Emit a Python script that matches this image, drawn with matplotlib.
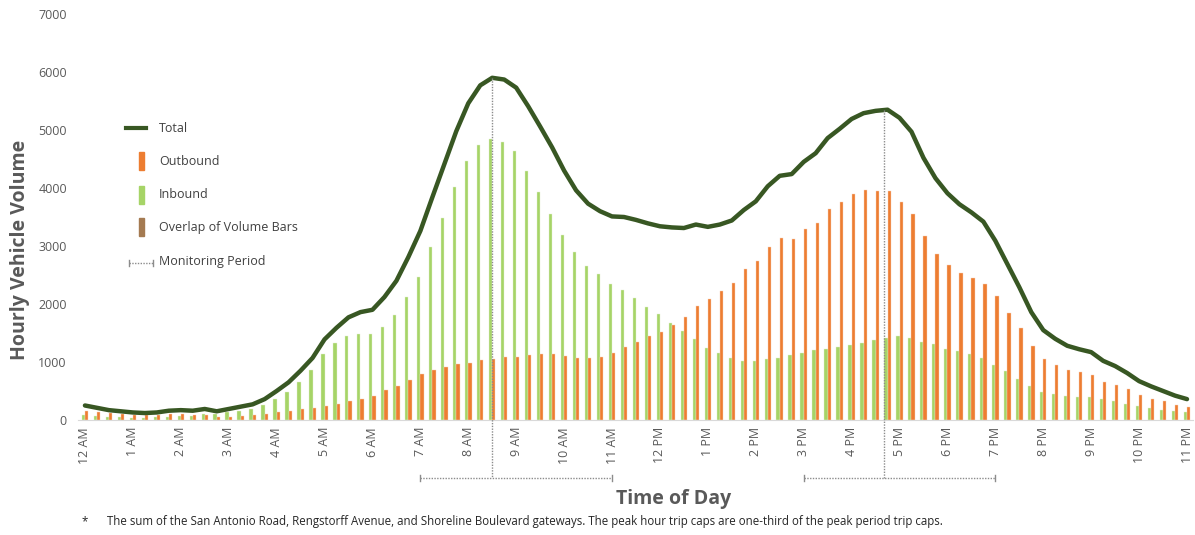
import matplotlib
matplotlib.use("Agg")
import matplotlib.pyplot as plt
import matplotlib.patches as patches
from matplotlib.lines import Line2D
import numpy as np


# 15-minute slots from 12 AM to 11 PM (93 slots), one tick label per hour
hour_labels = [
    "12 AM", "1 AM", "2 AM", "3 AM", "4 AM", "5 AM", "6 AM", "7 AM",
    "8 AM", "9 AM", "10 AM", "11 AM", "12 PM", "1 PM", "2 PM", "3 PM",
    "4 PM", "5 PM", "6 PM", "7 PM", "8 PM", "9 PM", "10 PM", "11 PM",
]

inbound = [
    90, 70, 50, 50, 40, 40, 50, 60, 70, 70, 100, 100, 130, 160, 190, 260,
    370, 490, 660, 860, 1140, 1320, 1450, 1490, 1490, 1610, 1810, 2120,
    2460, 2980, 3490, 4020, 4470, 4740, 4850, 4790, 4640, 4290, 3930, 3560,
    3190, 2890, 2660, 2510, 2350, 2240, 2100, 1950, 1820, 1680, 1540, 1400,
    1250, 1150, 1070, 1020, 1020, 1050, 1070, 1120, 1150, 1200, 1230, 1260,
    1290, 1320, 1380, 1410, 1450, 1410, 1350, 1310, 1230, 1190, 1130, 1070,
    950, 840, 700, 580, 490, 450, 420, 400, 390, 360, 330, 280, 240, 210,
    170, 160, 140,
]

outbound = [
    160, 140, 120, 100, 90, 80, 80, 100, 100, 90, 90, 50, 60, 70, 80, 100,
    130, 160, 190, 210, 250, 270, 320, 370, 410, 510, 590, 690, 800, 860,
    920, 960, 990, 1030, 1050, 1080, 1090, 1120, 1130, 1140, 1110, 1070,
    1070, 1090, 1160, 1260, 1350, 1440, 1520, 1640, 1770, 1970, 2080, 2220,
    2370, 2600, 2750, 2980, 3140, 3120, 3300, 3400, 3630, 3760, 3900, 3970,
    3950, 3940, 3760, 3560, 3170, 2860, 2680, 2530, 2450, 2350, 2140, 1850,
    1590, 1280, 1060, 950, 860, 820, 780, 660, 600, 530, 430, 370, 330, 260,
    220,
]

total = [
    250, 210, 170, 150, 130, 120, 130, 160, 170, 160, 190, 150, 190, 230,
    270, 360, 500, 650, 850, 1070, 1390, 1590, 1770, 1860, 1900, 2120, 2400,
    2810, 3260, 3840, 4410, 4980, 5460, 5770, 5900, 5870, 5730, 5410, 5060,
    4700, 4300, 3960, 3730, 3600, 3510, 3500, 3450, 3390, 3340, 3320, 3310,
    3370, 3330, 3370, 3440, 3620, 3770, 4030, 4210, 4240, 4450, 4600, 4860,
    5020, 5190, 5290, 5330, 5350, 5210, 4970, 4520, 4170, 3910, 3720, 3580,
    3420, 3090, 2690, 2290, 1860, 1550, 1400, 1280, 1220, 1170, 1020, 930,
    810, 670, 580, 500, 420, 360,
]

# monitoring periods (slot indices): peak marker and bracket start/end
am_peak_slot = 34
am_period = (28, 44)
pm_peak_slot = 66.7
pm_period = (60, 76)

footnote = ("The sum of the San Antonio Road, Rengstorff Avenue, and Shoreline "
            "Boulevard gateways. The peak hour trip caps are one-third of the "
            "peak period trip caps.")

GREEN = "#a6d467"
ORANGE = "#ed7d31"
DARK = "#385723"
BROWN = "#a47a51"
GRAY = "#595959"

plt.rcParams["font.family"] = ["Open Sans", "DejaVu Sans"]

W, H = 1195, 535
fig = plt.figure(figsize=(W / 100, H / 100), dpi=100)


def fx(px):
    return px / W


def fy(py):
    return 1 - py / H


ax = fig.add_axes([fx(78), fy(420), 1115 / W, 406 / H])

x = np.arange(len(inbound))
bw = 0.27
ax.bar(x - bw / 2, inbound, width=bw, color=GREEN, edgecolor="#e3f0d0", linewidth=0.3, zorder=2)
ax.bar(x + bw / 2, outbound, width=bw, color=ORANGE, edgecolor="#f8d2b8", linewidth=0.3, zorder=2)
ax.plot(x, total, color=DARK, lw=3.2, solid_joinstyle="round", solid_capstyle="round", zorder=4)

ax.set_xlim(-0.58, len(inbound) - 0.5)
ax.set_ylim(0, 7000)
ax.set_yticks(range(0, 7001, 1000))
ax.set_xticks(x[::4])
ax.set_xticklabels(hour_labels, rotation=90)
ax.tick_params(axis="both", length=0, labelsize=9, labelcolor=GRAY)
ax.tick_params(axis="x", pad=5)
ax.tick_params(axis="y", pad=8)
for side in ["left", "right", "top"]:
    ax.spines[side].set_visible(False)
ax.spines["bottom"].set_color("#d9d9d9")

# monitoring period markers
trans = ax.get_xaxis_transform()
bracket_y = -0.143
dot = (0, (1, 1))
for peak, (start, end) in [(am_peak_slot, am_period), (pm_peak_slot, pm_period)]:
    top = np.interp(peak, x, total) / 7000
    ax.plot([peak, peak], [top, bracket_y], transform=trans, color="#8c8c8c",
            lw=1, ls=dot, clip_on=False, zorder=5)
    ax.plot([start, end], [bracket_y, bracket_y], transform=trans, color="#8c8c8c",
            lw=1, ls=dot, clip_on=False)
    for edge in (start, end):
        ax.plot([edge, edge], [bracket_y - 0.008, bracket_y + 0.008], transform=trans,
                color="#8c8c8c", lw=1, clip_on=False)

# axis titles
fig.text(fx(20), fy(250), "Hourly Vehicle Volume", rotation=90, ha="center", va="center",
         fontsize=14, fontweight="bold", color=GRAY)
fig.text(fx(674), fy(499), "Time of Day", ha="center", va="center",
         fontsize=14, fontweight="bold", color=GRAY)

# footnote
fig.text(fx(82), fy(522), "*", ha="left", va="center", fontsize=8.3, color="#262626")
fig.text(fx(107), fy(522), footnote, ha="left", va="center", fontsize=8.3, color="#262626")

# legend drawn by hand
leg_color = "#404040"
fig.add_artist(Line2D([fx(126), fx(146)], [fy(128), fy(128)], color=DARK, lw=3,
                      transform=fig.transFigure))
fig.text(fx(159), fy(128), "Total", va="center", fontsize=9, color=leg_color)
for label, color, yc in [("Outbound", ORANGE, 161), ("Inbound", GREEN, 195),
                         ("Overlap of Volume Bars", BROWN, 227)]:
    fig.add_artist(patches.Rectangle((fx(138.5), fy(yc + 8.5)), 5 / W, 17 / H,
                                     color=color, transform=fig.transFigure))
    fig.text(fx(159), fy(yc), label, va="center", fontsize=9, color=leg_color)
fig.add_artist(Line2D([fx(129), fx(152.5)], [fy(263), fy(263)], color="#8c8c8c", lw=1,
                      ls=dot, transform=fig.transFigure))
for px in (129, 152.5):
    fig.add_artist(Line2D([fx(px), fx(px)], [fy(260), fy(266)], color="#8c8c8c", lw=1,
                          transform=fig.transFigure))
fig.text(fx(159), fy(262), "Monitoring Period", va="center", fontsize=9, color=leg_color)

fig.savefig("out.png", dpi=100)
